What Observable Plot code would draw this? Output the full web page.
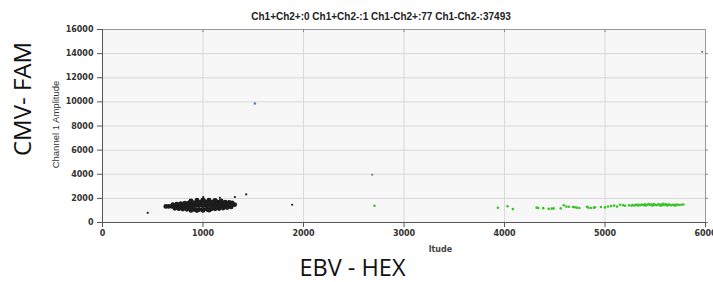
<!DOCTYPE html>
<html><head><meta charset="utf-8">
<script src="https://cdn.jsdelivr.net/npm/d3@7"></script>
<script src="https://cdn.jsdelivr.net/npm/@observablehq/plot@0.6"></script>
<style>body{margin:0;background:#fff}</style>
</head><body><div id="chart"></div>
<script>
const titleText = "Ch1+Ch2+:0 Ch1+Ch2-:1 Ch1-Ch2+:77 Ch1-Ch2-:37493";
const yAxisTitle = "Channel 1 Amplitude";
const xAxisFragment = "ltude";
const leftLabel = "CMV- FAM";
const bottomLabel = "EBV - HEX";
const xTicks = [0, 1000, 2000, 3000, 4000, 5000, 6000];
const yTicks = [0, 2000, 4000, 6000, 8000, 10000, 12000, 14000, 16000];

// Ch1-Ch2- droplets (dense black cluster)
const negX = [630,660,690,720,750,780,810,840,870,900,930,960,990,1020,1050,1080,1110,1140,1170,1200,1230,1260,1290,1315,
  700,740,780,820,860,900,940,980,1020,1060,1100,1140,1180,1220,1260,1290,
  720,760,800,840,880,920,960,1000,1040,1080,1120,1160,1200,1240,1280,
  880,940,1000,1060,1120,1180,
  880,940,1000,1060,
  450,1317,1430,1887,1002,1168];
const negY = [1330,1330,1340,1340,1350,1350,1360,1370,1380,1390,1400,1410,1420,1420,1430,1440,1450,1450,1460,1460,1470,1470,1480,1480,
  1480,1520,1560,1600,1620,1650,1680,1700,1720,1720,1710,1700,1690,1680,1660,1620,
  1180,1150,1120,1100,1080,1060,1060,1080,1100,1120,1140,1160,1200,1240,1290,
  1800,1850,1870,1860,1840,1800,
  1000,990,1000,1020,
  800,2110,2330,1470,2110,2050];
const negR = negX.map((d, i) => i < 65 ? 2.4 : 1.1);

// Ch1+Ch2- droplet (blue)
const famX = [1516];
const famY = [9860];

// unclassified (gray)
const otherX = [2683, 5967];
const otherY = [3960, 14150];

// Ch1-Ch2+ droplets (green, 77)
const hexX = [2706,3934,4030,4083,4320,4335,4385,4440,4470,4490,4590,4615,4640,4680,4700,4720,4745,4820,4835,4860,4900,5000,5030,5060,5090,5120,5150,5200,5240,5275,5290,5305,5320,5335,5350,5365,5380,5395,5410,5420,5435,5445,5460,5475,5485,5495,5510,5520,5535,5545,5560,5570,5580,5590,5605,5615,5630,5645,5660,5675,5690,5705,5720,5740,5760,5780,5330,5400,5470,5550,5620,5265,4890,4960,4560,5180,5700];
const hexY = [1385,1220,1350,1110,1230,1200,1190,1130,1150,1170,1430,1320,1300,1280,1260,1230,1200,1300,1230,1200,1270,1250,1330,1360,1400,1320,1470,1380,1420,1450,1410,1460,1440,1470,1430,1480,1450,1500,1440,1470,1530,1460,1490,1440,1520,1480,1430,1470,1510,1450,1490,1420,1540,1470,1500,1440,1480,1460,1430,1470,1440,1460,1480,1450,1470,1490,1420,1410,1410,1400,1410,1400,1220,1280,1170,1440,1410];

const neg = negX.map((x, i) => ({x, y: negY[i], r: negR[i]}));
const fam = famX.map((x, i) => ({x, y: famY[i]}));
const other = otherX.map((x, i) => ({x, y: otherY[i]}));
const hex = hexX.map((x, i) => ({x, y: hexY[i]}));

const fmt = d => String(d);

const plot = Plot.plot({
  width: 713,
  height: 282,
  marginLeft: 102,
  marginRight: 8,
  marginTop: 29,
  marginBottom: 60,
  x: {domain: [0, 6000], axis: null},
  y: {domain: [0, 16000], axis: null},
  r: {type: "identity"},
  style: {fontFamily: "DejaVu Sans", fontSize: "8px", color: "#222", background: "#fff"},
  marks: [
    Plot.frame({fill: "#f7f7f7"}),
    Plot.gridX(xTicks.slice(1, -1), {stroke: "#d8d8d8", strokeOpacity: 1}),
    Plot.gridY(yTicks.slice(1, -1), {stroke: "#d8d8d8", strokeOpacity: 1}),
    Plot.frame({stroke: "#9a9a9a"}),
    Plot.ruleX(xTicks.slice(1, -1), {y1: 16000, y2: 15750, stroke: "#888"}),
    Plot.ruleY(yTicks.slice(0, -1), {x1: 6000, x2: 6030, stroke: "#888"}),
    Plot.ruleX([0], {stroke: "#555"}),
    Plot.ruleY([0], {stroke: "#555"}),
    Plot.axisX(xTicks, {tickSize: 5, tickPadding: 3, label: null, tickFormat: fmt, fontWeight: "bold", fill: "#333", stroke: "#555"}),
    Plot.axisY(yTicks, {tickSize: 5, tickPadding: 4, label: null, tickFormat: fmt, fontWeight: "bold", fill: "#333", stroke: "#555"}),
    Plot.dot(neg, {x: "x", y: "y", r: "r", fill: "#1c1c1c", stroke: null}),
    Plot.dot(other, {x: "x", y: "y", r: 1.1, fill: "#777"}),
    Plot.dot(fam, {x: "x", y: "y", r: 1.3, fill: "#4a7fd6"}),
    Plot.dot(hex, {x: "x", y: "y", r: 1.3, fill: "#3cc42c"}),
    Plot.text([titleText], {frameAnchor: "top", textAnchor: "middle", lineAnchor: "middle", dx: -23, dy: -12.5, fontFamily: "Liberation Sans", fontWeight: "bold", fontSize: 10, fill: "#222"}),
    Plot.text([yAxisTitle], {frameAnchor: "left", textAnchor: "middle", lineAnchor: "middle", dx: -47, dy: -1.5, rotate: -90, fontFamily: "Liberation Sans", fontSize: 9.5, fill: "#333"}),
    Plot.text([xAxisFragment], {frameAnchor: "bottom", textAnchor: "middle", lineAnchor: "middle", dx: 36.5, dy: 27, fontFamily: "DejaVu Sans", fontWeight: "bold", fontSize: 8, fill: "#444"}),
    Plot.text([leftLabel], {frameAnchor: "left", textAnchor: "middle", lineAnchor: "middle", dx: -79, dy: -27, rotate: -90, fontFamily: "Open Sans", fontSize: 24, fill: "#111"}),
    Plot.text([bottomLabel], {frameAnchor: "bottom", textAnchor: "middle", lineAnchor: "middle", dx: -51.5, dy: 45.5, fontFamily: "Open Sans", fontSize: 23.5, fill: "#111"})
  ]
});
document.getElementById("chart").appendChild(plot);
</script>
</body></html>
